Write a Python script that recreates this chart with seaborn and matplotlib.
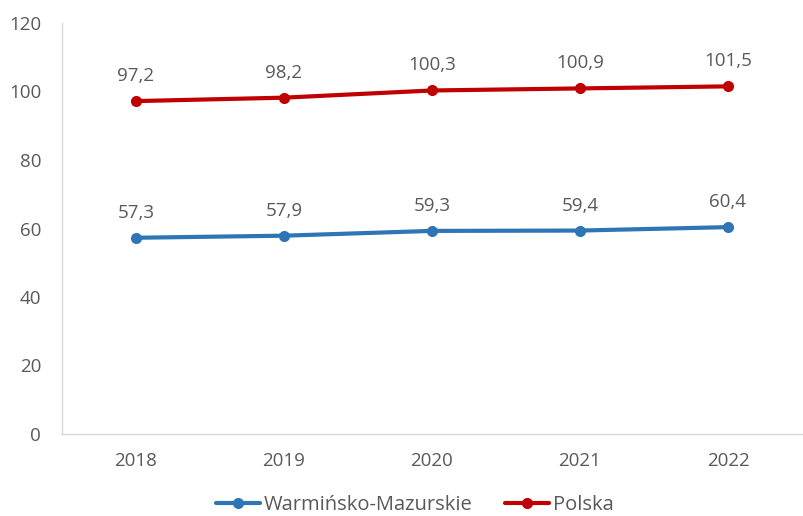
import matplotlib
matplotlib.use("Agg")
import matplotlib.pyplot as plt
import seaborn as sns
import pandas as pd
import numpy as np

years = ["2018", "2019", "2020", "2021", "2022"]
warm = [57.3, 57.9, 59.3, 59.4, 60.4]
polska = [97.2, 98.2, 100.3, 100.9, 101.5]
series_names = ["Warmińsko-Mazurskie", "Polska"]
colors = ["#2E75B6", "#C00000"]

sns.set_theme(style="white")
plt.rcParams["font.family"] = ["Open Sans", "DejaVu Sans"]

df = pd.DataFrame({
    "Rok": years * 2,
    "Wartość": warm + polska,
    "Seria": [series_names[0]] * len(years) + [series_names[1]] * len(years),
})

fig = plt.figure(figsize=(8.04, 5.16), dpi=100)
ax = fig.add_axes([62 / 804, 1 - 434 / 516, 740 / 804, 411 / 516])

sns.lineplot(data=df, x="Rok", y="Wartość", hue="Seria", palette=colors,
             marker="o", markersize=8, markeredgewidth=0, linewidth=3,
             ax=ax, legend=True)

for vals, c in zip([warm, polska], colors):
    for i, v in enumerate(vals):
        ax.annotate(f"{v:.1f}".replace(".", ","), (i, v), xytext=(0, 16),
                    textcoords="offset pixels", ha="center", va="bottom",
                    fontsize=13.5, color="#595959")

ax.set_xlim(-0.5, 4.5)
ax.set_ylim(0, 120)
ax.set_yticks(np.arange(0, 121, 20))
ax.set_xlabel("")
ax.set_ylabel("")
ax.set_xticks(range(len(years)))
ax.set_xticklabels(years)
ax.set_xticks(np.arange(-0.5, 4.6, 1), minor=True)
ax.tick_params(axis="x", which="major", length=0, pad=13, labelsize=13.5, labelcolor="#595959")
ax.tick_params(axis="x", which="minor", length=5, color="#D9D9D9", width=1, direction="out")
ax.tick_params(axis="y", length=5, color="#D9D9D9", width=1, direction="out", pad=10,
               labelsize=13.5, labelcolor="#595959")
for s in ["top", "right"]:
    ax.spines[s].set_visible(False)
for s in ["left", "bottom"]:
    ax.spines[s].set_color("#D9D9D9")
    ax.spines[s].set_linewidth(1)

ax.get_legend().remove()
handles, labels = ax.get_legend_handles_labels()
fig.legend(handles, labels, loc="center", bbox_to_anchor=(415 / 804, 1 - 505 / 516),
           ncol=2, frameon=False, fontsize=14.5, labelcolor="#595959",
           handlelength=2.2, handletextpad=0.2, columnspacing=1.6)

fig.savefig("out.png", dpi=100)
